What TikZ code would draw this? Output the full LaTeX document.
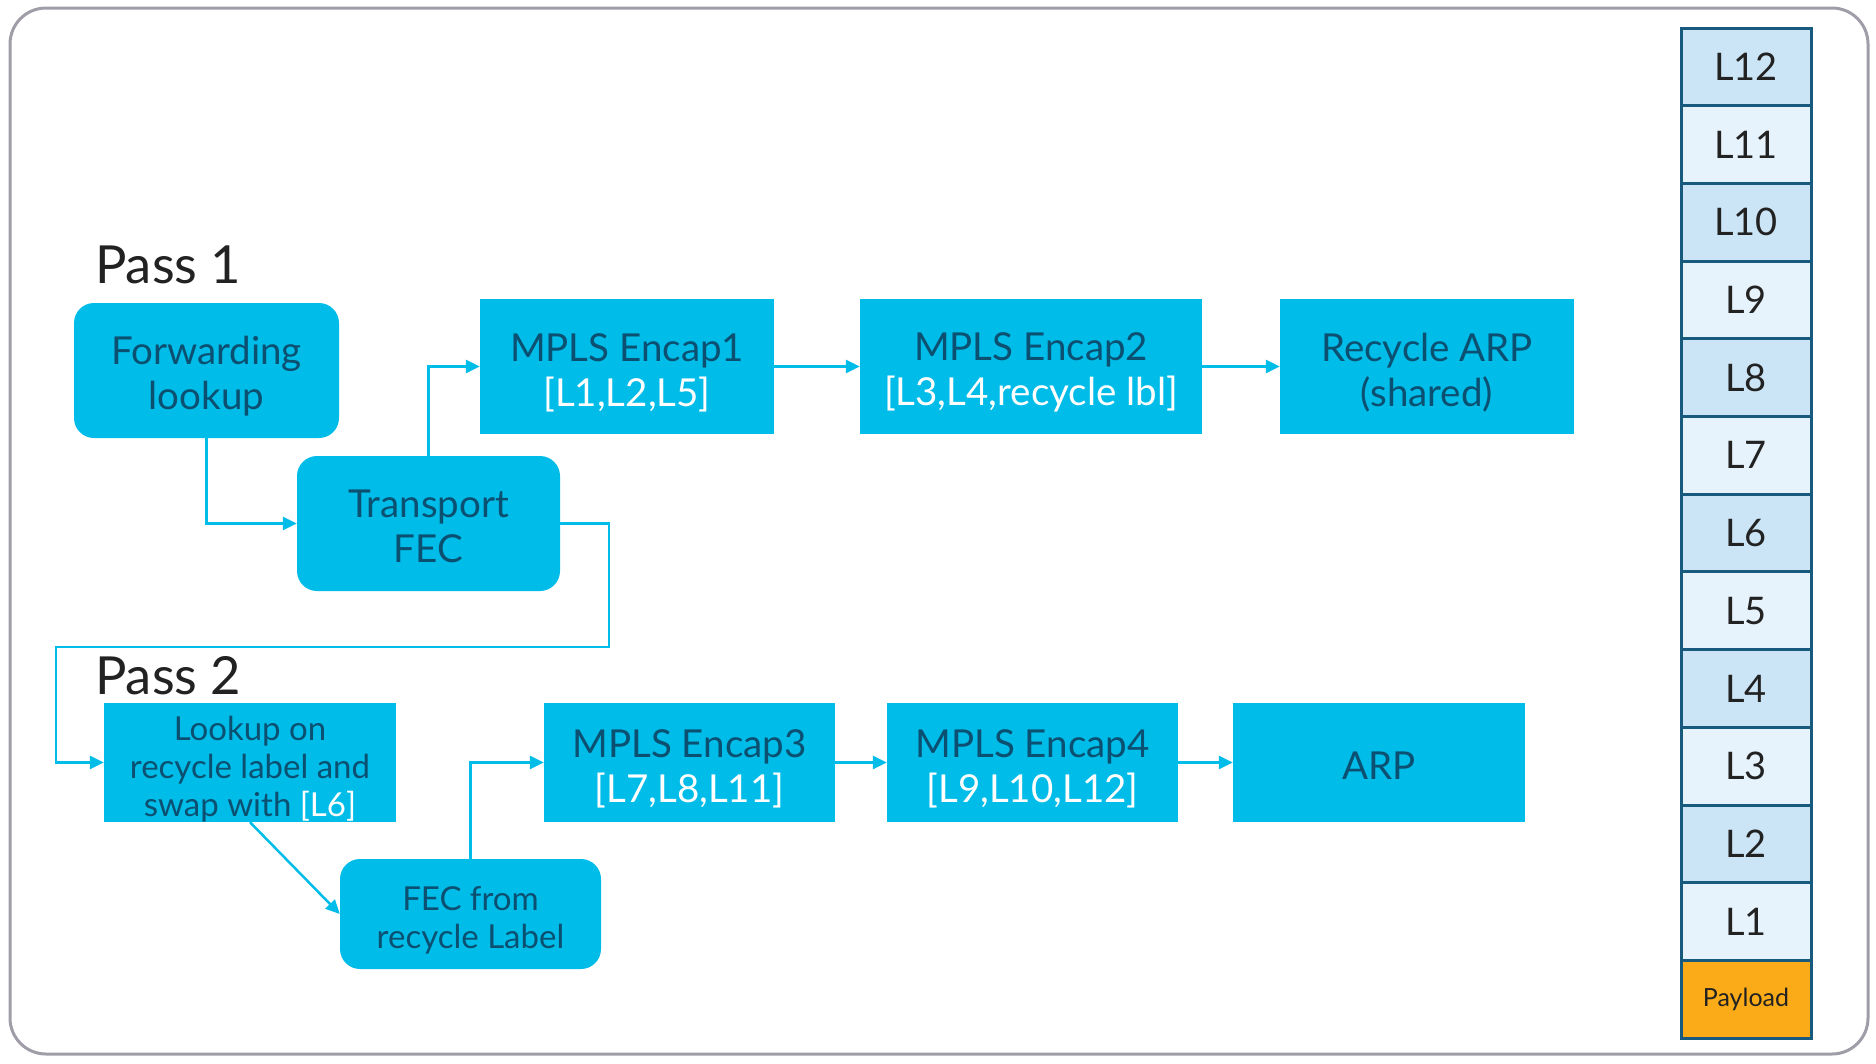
\documentclass[tikz,border=0pt]{standalone}
\usepackage{fontspec}
\setmainfont{Lato}
\usetikzlibrary{arrows.meta}
\definecolor{cyanbox}{HTML}{00BCE8}
\definecolor{darktxt}{HTML}{0B4F71}
\definecolor{framegray}{HTML}{A09CA8}
\definecolor{stackline}{HTML}{185A7D}
\definecolor{cellA}{HTML}{CCE5F6}
\definecolor{cellB}{HTML}{E6F3FC}
\definecolor{payload}{HTML}{FBAB18}
\definecolor{passtxt}{HTML}{222222}
\tikzset{
  box/.style={fill=cyanbox, draw=none, inner sep=0pt},
  rbox/.style={box, rounded corners=20pt},
  btxt/.style={inner sep=0pt, align=center, text=darktxt, font=\fontsize{38.5}{45}\selectfont},
  stxt/.style={btxt, font=\fontsize{33}{38}\selectfont},
  conn/.style={draw=cyanbox, line width=2.5pt, -{Triangle[length=14pt,width=13pt]}},
  cell/.style={draw=stackline, line width=3pt, inner sep=0pt, minimum width=130pt,
    minimum height=77.7pt, text=passtxt, font=\fontsize{38}{42}\selectfont},
  passlbl/.style={anchor=base west, inner sep=0pt, text=passtxt, font=\fontsize{52.5}{58}\selectfont}
}
\newcommand{\wt}[1]{\textcolor{white}{#1}}
\begin{document}
\begin{tikzpicture}[x=1pt,y=-1pt]
\useasboundingbox (0,0) rectangle (1876,1063);
\draw[framegray, line width=3pt, rounded corners=36pt] (10,8) rectangle (1868,1054);

\node[passlbl] (p1) at (95,283) {Pass 1};
\node[passlbl] (p2) at (95,694) {Pass 2};

\node[rbox, minimum width=265pt, minimum height=135pt] (fwd) at (206.5,370.5) {};
\node[rbox, minimum width=263pt, minimum height=135pt] (tfec) at (428.5,523.5) {};
\node[box, minimum width=294pt, minimum height=135pt] (enc1) at (627,366.5) {};
\node[box, minimum width=342pt, minimum height=135pt] (enc2) at (1031,366.5) {};
\node[box, minimum width=294pt, minimum height=135pt] (rarp) at (1427,366.5) {};
\node[box, minimum width=292pt, minimum height=119pt] (look) at (250,762.5) {};
\node[rbox, minimum width=261pt, minimum height=110pt] (fecr) at (470.5,914) {};
\node[box, minimum width=291pt, minimum height=119pt] (enc3) at (689.5,762.5) {};
\node[box, minimum width=291pt, minimum height=119pt] (enc4) at (1032.5,762.5) {};
\node[box, minimum width=292pt, minimum height=119pt] (arp) at (1379,762.5) {};

\node[btxt] (fwdt) at ([yshift=-6pt]fwd.center) {Forwarding\\lookup};
\node[btxt] (tfect) at ([yshift=-3pt]tfec.center) {Transport\\FEC};
\node[btxt] (enc1t) at ([yshift=-6pt]enc1.center) {MPLS Encap1\\\wt{[L1,L2,L5]}};
\node[btxt] (enc2t) at ([yshift=-6pt]enc2.center) {MPLS Encap2\\\wt{[L3,L4,recycle lbl]}};
\node[btxt] (rarpt) at ([yshift=-6pt]rarp.center) {Recycle ARP\\(shared)};
\node[stxt] (lookt) at ([yshift=-7pt]look.center) {Lookup on\\recycle label and\\swap with \wt{[L6]}};
\node[stxt] (fecrt) at ([yshift=-6pt]fecr.center) {FEC from\\recycle Label};
\node[btxt] (enc3t) at ([yshift=-6pt]enc3.center) {MPLS Encap3\\\wt{[L7,L8,L11]}};
\node[btxt] (enc4t) at ([yshift=-6pt]enc4.center) {MPLS Encap4\\\wt{[L9,L10,L12]}};
\node[btxt] (arpt) at ([yshift=-3pt]arp.center) {ARP};

\coordinate (c1) at (609,647);
\coordinate (c2) at (56,647);

\draw[conn] (fwd.south) |- (tfec.west);
\draw[conn] (tfec.north) |- (enc1.west);
\draw[conn] (enc1.east) -- (enc2.west);
\draw[conn] (enc2.east) -- (rarp.west);
\draw[conn] (tfec.east) -| (c1) -- (c2) |- (look.west);
\draw[conn] (look.south) -- (fecr.west);
\draw[conn] (fecr.north) |- (enc3.west);
\draw[conn] (enc3.east) -- (enc4.west);
\draw[conn] (enc4.east) -- (arp.west);

% label stack
\foreach \lbl [count=\i from 0] in {L12,L11,L10,L9,L8,L7,L6,L5,L4,L3,L2,L1}{
  \pgfmathtruncatemacro{\odd}{mod(\i,2)}
  \ifnum\odd=0
    \node[cell, fill=cellA] (s\i) at (1746,{28+38.85+77.7*\i}) {\raisebox{-2pt}{\lbl}};
  \else
    \node[cell, fill=cellB] (s\i) at (1746,{28+38.85+77.7*\i}) {\raisebox{-2pt}{\lbl}};
  \fi
}
\node[cell, fill=payload, font=\fontsize{25}{28}\selectfont] (pay) at (1746,{28+38.85+77.7*12}) {Payload};
\end{tikzpicture}
\end{document}
